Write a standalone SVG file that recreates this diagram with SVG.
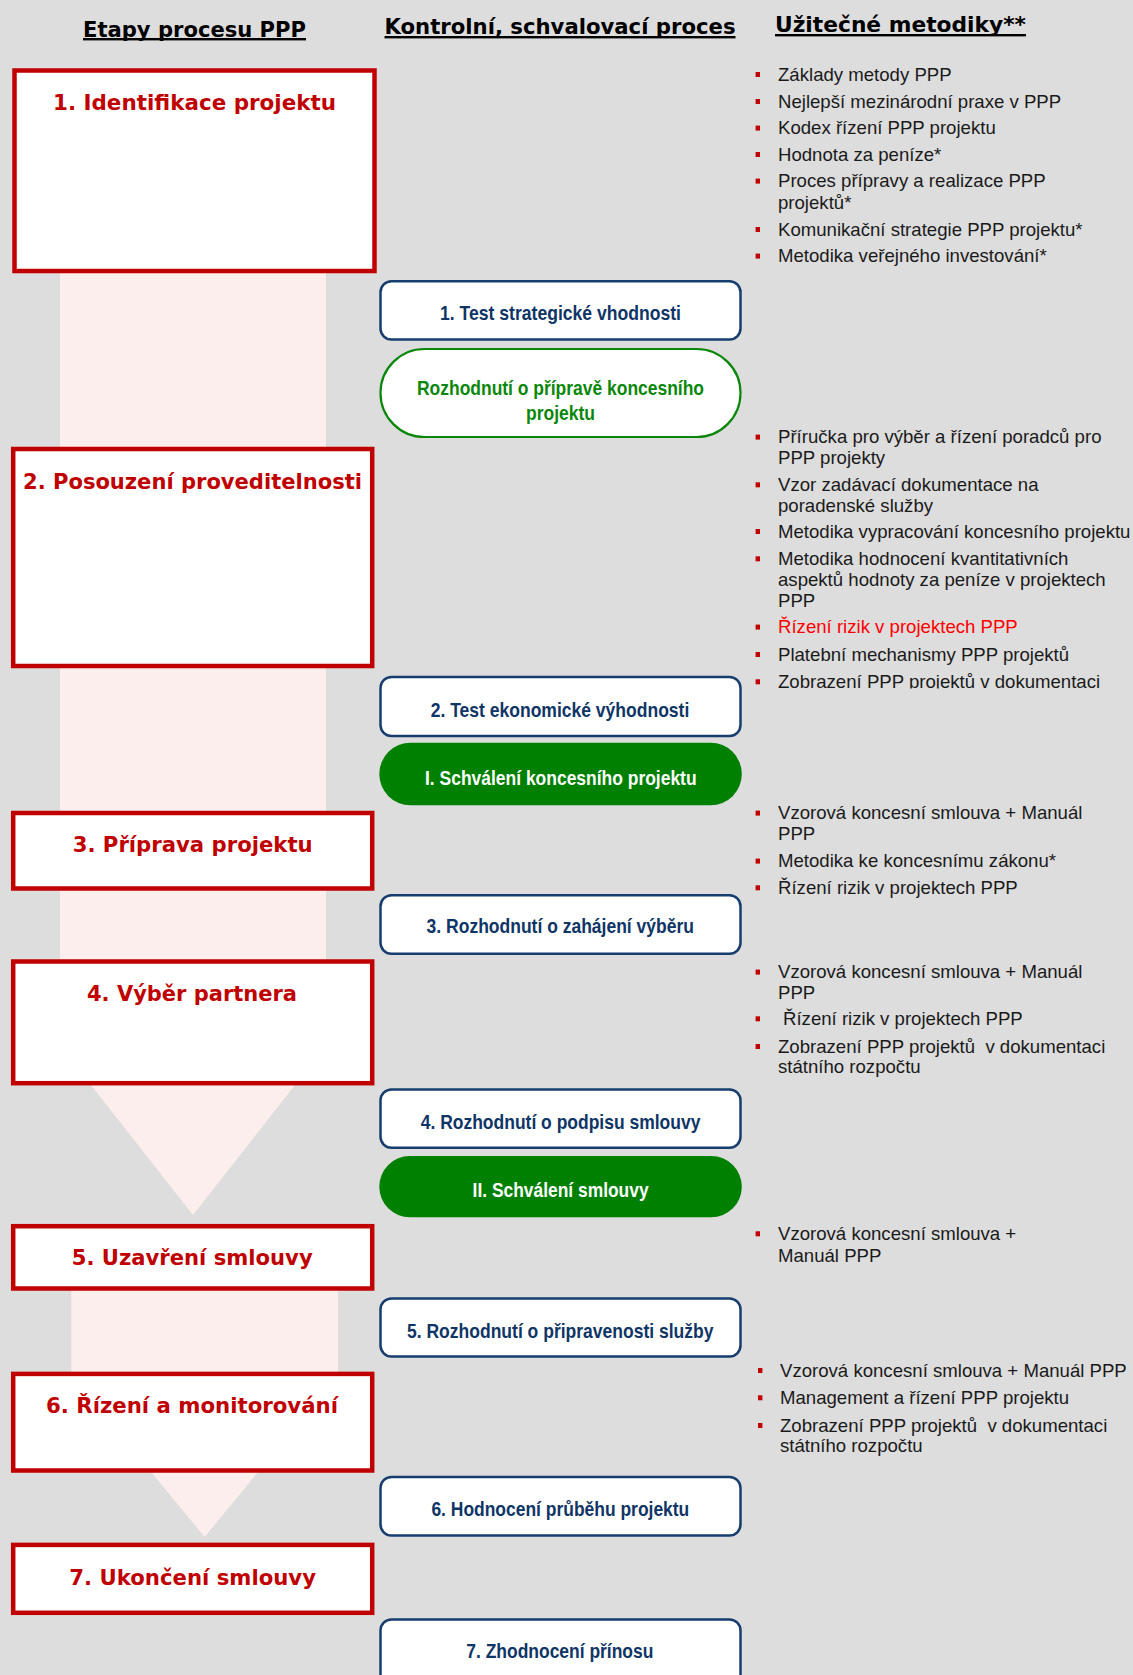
<svg xmlns="http://www.w3.org/2000/svg" width="1133" height="1675" viewBox="0 0 1133 1675">
  <defs>
    <style>
      .hdr { font-family: "DejaVu Sans", Verdana, sans-serif; font-weight: bold; font-size: 22px; fill: #000; }
      .uline { fill: #000; }
      .stage rect { fill: #fff; stroke: #C00000; stroke-width: 4.5; }
      .stage text { font-family: "DejaVu Sans", Verdana, sans-serif; font-weight: bold; font-size: 21.5px; fill: #C00000; }
      .ctrl rect { fill: #fff; stroke: #163D6E; stroke-width: 2.5; }
      .ctrl text { font-family: "Liberation Sans Narrow", "Liberation Sans", Arial, sans-serif; font-weight: bold; font-size: 20.5px; fill: #0F3566; }
      .dec-out rect { fill: #fff; stroke: #0A870A; stroke-width: 2.2; }
      .dec-out text { font-family: "Liberation Sans Narrow", "Liberation Sans", Arial, sans-serif; font-weight: bold; font-size: 20.5px; fill: #0A870A; }
      .dec-fill rect { fill: #008000; stroke: none; }
      .dec-fill text { font-family: "Liberation Sans Narrow", "Liberation Sans", Arial, sans-serif; font-weight: bold; font-size: 20.5px; fill: #fff; }
      .meth text { font-family: "Liberation Sans", Arial, sans-serif; font-size: 18.6px; fill: #1A1A1A; }
      .meth text.hot { fill: #FF0000; }
      .meth rect { fill: #C00000; }
      .flow { fill: #FCEEEC; }
    </style>
    <clipPath id="clip-list2">
      <rect x="740" y="400" width="393" height="288.5"/>
    </clipPath>
  </defs>

  <!-- page background -->
  <rect x="0" y="0" width="1133" height="1675" fill="#DDDDDD"/>

  <!-- column headings -->
  <g id="headings">
    <text class="hdr" x="83" y="36.5" textLength="223" lengthAdjust="spacingAndGlyphs">Etapy procesu PPP</text>
    <rect class="uline" x="83" y="38" width="223" height="2.4"/>
    <text class="hdr" x="384.5" y="34" textLength="351" lengthAdjust="spacingAndGlyphs">Kontrolní, schvalovací proces</text>
    <rect class="uline" x="384.5" y="36" width="351" height="2.4"/>
    <text class="hdr" x="775" y="32" textLength="251" lengthAdjust="spacingAndGlyphs">Užitečné metodiky**</text>
    <rect class="uline" x="775" y="34" width="251" height="2.4"/>
  </g>

  <!-- wide flow arrows behind the stage boxes -->
  <g id="flow-arrows">
    <polygon class="flow" points="60,200 326,200 326,1045.5 193,1215 60,1045.5"/>
    <polygon class="flow" points="71.3,1270 338,1270 338,1375 204.6,1537 71.3,1375"/>
  </g>

  <!-- process stages -->
  <g id="stage-1" class="stage">
    <rect x="14.5" y="70.5" width="360" height="200.5"/>
    <text x="53" y="110" textLength="283" lengthAdjust="spacingAndGlyphs">1. Identifikace projektu</text>
  </g>
  <g id="stage-2" class="stage">
    <rect x="13.2" y="449" width="359" height="217"/>
    <text x="23" y="489.3" textLength="339" lengthAdjust="spacingAndGlyphs">2. Posouzení proveditelnosti</text>
  </g>
  <g id="stage-3" class="stage">
    <rect x="13.2" y="813" width="359" height="75.5"/>
    <text x="72.7" y="851.7" textLength="240" lengthAdjust="spacingAndGlyphs">3. Příprava projektu</text>
  </g>
  <g id="stage-4" class="stage">
    <rect x="13.2" y="961.5" width="359" height="121.7"/>
    <text x="87" y="1000.7" textLength="210" lengthAdjust="spacingAndGlyphs">4. Výběr partnera</text>
  </g>
  <g id="stage-5" class="stage">
    <rect x="13.2" y="1226.2" width="359" height="62.3"/>
    <text x="71.7" y="1265" textLength="241" lengthAdjust="spacingAndGlyphs">5. Uzavření smlouvy</text>
  </g>
  <g id="stage-6" class="stage">
    <rect x="13.2" y="1373.9" width="359" height="96.6"/>
    <text x="46" y="1412.7" textLength="292" lengthAdjust="spacingAndGlyphs">6. Řízení a monitorování</text>
  </g>
  <g id="stage-7" class="stage">
    <rect x="13.2" y="1544.9" width="359" height="67.9"/>
    <text x="69.3" y="1585" textLength="246.7" lengthAdjust="spacingAndGlyphs">7. Ukončení smlouvy</text>
  </g>

  <!-- control and approval steps -->
  <g id="ctrl-1" class="ctrl">
    <rect x="380.5" y="281.2" width="360" height="58.3" rx="11"/>
    <text x="440" y="320" textLength="241" lengthAdjust="spacingAndGlyphs">1. Test strategické vhodnosti</text>
  </g>
  <g id="decision-prep" class="dec-out">
    <rect x="380.5" y="349" width="360" height="88" rx="44"/>
    <text x="417" y="395" textLength="287" lengthAdjust="spacingAndGlyphs">Rozhodnutí o přípravě koncesního</text>
    <text x="526" y="420" textLength="69" lengthAdjust="spacingAndGlyphs">projektu</text>
  </g>
  <g id="ctrl-2" class="ctrl">
    <rect x="380.5" y="677" width="360" height="59" rx="11"/>
    <text x="430.7" y="717" textLength="258.6" lengthAdjust="spacingAndGlyphs">2. Test ekonomické výhodnosti</text>
  </g>
  <g id="approval-1" class="dec-fill">
    <rect x="379.3" y="742.7" width="362.5" height="62.6" rx="31.3"/>
    <text x="425" y="784.5" textLength="271.6" lengthAdjust="spacingAndGlyphs">I. Schválení koncesního projektu</text>
  </g>
  <g id="ctrl-3" class="ctrl">
    <rect x="380.5" y="895.2" width="360" height="58.6" rx="11"/>
    <text x="426.6" y="933.3" textLength="267.4" lengthAdjust="spacingAndGlyphs">3. Rozhodnutí o zahájení výběru</text>
  </g>
  <g id="ctrl-4" class="ctrl">
    <rect x="380.5" y="1089.5" width="360" height="58.3" rx="11"/>
    <text x="420.7" y="1129.3" textLength="279.7" lengthAdjust="spacingAndGlyphs">4. Rozhodnutí o podpisu smlouvy</text>
  </g>
  <g id="approval-2" class="dec-fill">
    <rect x="379.3" y="1156" width="362.5" height="61.3" rx="30.6"/>
    <text x="472.6" y="1197.3" textLength="176" lengthAdjust="spacingAndGlyphs">II. Schválení smlouvy</text>
  </g>
  <g id="ctrl-5" class="ctrl">
    <rect x="380.5" y="1298.5" width="360" height="58" rx="11"/>
    <text x="407" y="1337.7" textLength="306.5" lengthAdjust="spacingAndGlyphs">5. Rozhodnutí o připravenosti služby</text>
  </g>
  <g id="ctrl-6" class="ctrl">
    <rect x="380.5" y="1477" width="360" height="58.5" rx="11"/>
    <text x="431.4" y="1516" textLength="257.9" lengthAdjust="spacingAndGlyphs">6. Hodnocení průběhu projektu</text>
  </g>
  <g id="ctrl-7" class="ctrl">
    <rect x="380.5" y="1619.5" width="360" height="80" rx="11"/>
    <text x="466.3" y="1658.3" textLength="187.1" lengthAdjust="spacingAndGlyphs">7. Zhodnocení přínosu</text>
  </g>

  <!-- useful methodologies, listed per stage -->
  <g id="methods-1" class="meth">
    <rect x="755.6" y="72" width="4.4" height="5"/>
    <text x="778" y="80.7">Základy metody PPP</text>
    <rect x="755.6" y="99" width="4.4" height="5"/>
    <text x="778" y="107.7">Nejlepší mezinárodní praxe v PPP</text>
    <rect x="755.6" y="125.6" width="4.4" height="5"/>
    <text x="778" y="134.3">Kodex řízení PPP projektu</text>
    <rect x="755.6" y="152" width="4.4" height="5"/>
    <text x="778" y="160.7">Hodnota za peníze*</text>
    <rect x="755.6" y="178.6" width="4.4" height="5"/>
    <text x="778" y="187.3">Proces přípravy a realizace PPP</text>
    <text x="778" y="209">projektů*</text>
    <rect x="755.6" y="227" width="4.4" height="5"/>
    <text x="778" y="235.7">Komunikační strategie PPP projektu*</text>
    <rect x="755.6" y="253.6" width="4.4" height="5"/>
    <text x="778" y="262.3">Metodika veřejného investování*</text>
  </g>

  <g id="methods-2" class="meth" clip-path="url(#clip-list2)">
    <rect x="755.6" y="434.6" width="4.4" height="5"/>
    <text x="778" y="443.3">Příručka pro výběr a řízení poradců pro</text>
    <text x="778" y="464">PPP projekty</text>
    <rect x="755.6" y="482.3" width="4.4" height="5"/>
    <text x="778" y="491">Vzor zadávací dokumentace na</text>
    <text x="778" y="511.5">poradenské služby</text>
    <rect x="755.6" y="529" width="4.4" height="5"/>
    <text x="778" y="537.7">Metodika vypracování koncesního projektu</text>
    <rect x="755.6" y="556.3" width="4.4" height="5"/>
    <text x="778" y="565">Metodika hodnocení kvantitativních</text>
    <text x="778" y="585.7">aspektů hodnoty za peníze v projektech</text>
    <text x="778" y="606.7">PPP</text>
    <rect x="755.6" y="624.6" width="4.4" height="5"/>
    <text class="hot" x="778" y="633.3">Řízení rizik v projektech PPP</text>
    <rect x="755.6" y="652" width="4.4" height="5"/>
    <text x="778" y="660.7">Platební mechanismy PPP projektů</text>
    <rect x="755.6" y="679.3" width="4.4" height="5"/>
    <text x="778" y="688">Zobrazení PPP projektů v dokumentaci</text>
  </g>

  <g id="methods-3" class="meth">
    <rect x="755.6" y="810.6" width="4.4" height="5"/>
    <text x="778" y="819.3">Vzorová koncesní smlouva + Manuál</text>
    <text x="778" y="840">PPP</text>
    <rect x="755.6" y="858.6" width="4.4" height="5"/>
    <text x="778" y="867.3">Metodika ke koncesnímu zákonu*</text>
    <rect x="755.6" y="885.3" width="4.4" height="5"/>
    <text x="778" y="894">Řízení rizik v projektech PPP</text>
  </g>

  <g id="methods-4" class="meth">
    <rect x="755.6" y="969.6" width="4.4" height="5"/>
    <text x="778" y="978.3">Vzorová koncesní smlouva + Manuál</text>
    <text x="778" y="999.3">PPP</text>
    <rect x="755.6" y="1016.3" width="4.4" height="5"/>
    <text x="783" y="1025">Řízení rizik v projektech PPP</text>
    <rect x="755.6" y="1044" width="4.4" height="5"/>
    <text x="778" y="1052.7" xml:space="preserve">Zobrazení PPP projektů  v dokumentaci</text>
    <text x="778" y="1073.3">státního rozpočtu</text>
  </g>

  <g id="methods-5" class="meth">
    <rect x="755.6" y="1231.3" width="4.4" height="5"/>
    <text x="778" y="1240">Vzorová koncesní smlouva +</text>
    <text x="778" y="1261.7">Manuál PPP</text>
  </g>

  <g id="methods-6" class="meth">
    <rect x="758" y="1368" width="4.4" height="5"/>
    <text x="780" y="1376.7">Vzorová koncesní smlouva + Manuál PPP</text>
    <rect x="758" y="1395.3" width="4.4" height="5"/>
    <text x="780" y="1404">Management a řízení PPP projektu</text>
    <rect x="758" y="1423" width="4.4" height="5"/>
    <text x="780" y="1431.7" xml:space="preserve">Zobrazení PPP projektů  v dokumentaci</text>
    <text x="780" y="1451.7">státního rozpočtu</text>
  </g>
</svg>
